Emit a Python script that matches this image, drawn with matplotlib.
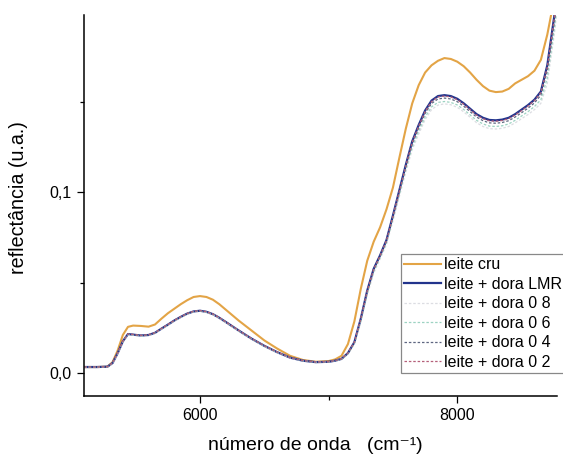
import matplotlib
matplotlib.use('Agg')
import matplotlib.pyplot as plt
from matplotlib.ticker import FixedLocator

plt.rcParams['font.family'] = ['Liberation Sans', 'DejaVu Sans']

# número de onda (cm-1)
onda = [5100, 5200, 5280, 5320, 5360, 5400, 5440, 5480, 5540, 5600,
        5650, 5700, 5750, 5800, 5850, 5900, 5950, 6000, 6050, 6100,
        6150, 6200, 6300, 6400, 6500, 6600, 6700, 6800, 6900, 7000,
        7050, 7100, 7150, 7200, 7250, 7300, 7350, 7400, 7450, 7500,
        7550, 7600, 7650, 7700, 7750, 7800, 7850, 7900, 7950, 8000,
        8050, 8100, 8150, 8200, 8250, 8300, 8350, 8400, 8450, 8500,
        8550, 8600, 8650, 8700, 8730, 8760, 8780]

leite_cru = [0.0033, 0.0033, 0.0035, 0.0060, 0.0125, 0.0210, 0.0255, 0.0262, 0.0260, 0.0256,
             0.0268, 0.0300, 0.0330, 0.0355, 0.0380, 0.0402, 0.0420, 0.0425, 0.0420, 0.0405,
             0.0380, 0.0350, 0.0290, 0.0235, 0.0180, 0.0135, 0.0095, 0.0072, 0.0062, 0.0066,
             0.0075, 0.0095, 0.0160, 0.0285, 0.0465, 0.0620, 0.0725, 0.0805, 0.0905, 0.1025,
             0.1190, 0.1350, 0.1490, 0.1590, 0.1660, 0.1700, 0.1725, 0.1740, 0.1735, 0.1720,
             0.1695, 0.1660, 0.1620, 0.1585, 0.1560, 0.1552, 0.1555, 0.1570, 0.1600, 0.1620,
             0.1640, 0.1670, 0.1730, 0.1870, 0.1980, 0.2100, 0.2200]

dora_lmr = [0.0033, 0.0033, 0.0035, 0.0055, 0.0110, 0.0175, 0.0215, 0.0212, 0.0207, 0.0210,
            0.0222, 0.0245, 0.0267, 0.0290, 0.0310, 0.0328, 0.0340, 0.0344, 0.0338, 0.0325,
            0.0305, 0.0282, 0.0235, 0.0190, 0.0150, 0.0115, 0.0085, 0.0068, 0.0060, 0.0062,
            0.0068, 0.0078, 0.0110, 0.0170, 0.0300, 0.0455, 0.0575, 0.0650, 0.0735, 0.0870,
            0.1010, 0.1150, 0.1280, 0.1370, 0.1450, 0.1505, 0.1530, 0.1535, 0.1530, 0.1515,
            0.1490, 0.1460, 0.1430, 0.1410, 0.1398, 0.1396, 0.1400, 0.1410, 0.1430, 0.1455,
            0.1480, 0.1510, 0.1555, 0.1700, 0.1850, 0.2000, 0.2150]

dora_08 = [0.0032, 0.0032, 0.0034, 0.0052, 0.0106, 0.0170, 0.0211, 0.0209, 0.0204, 0.0207,
           0.0219, 0.0242, 0.0264, 0.0287, 0.0307, 0.0325, 0.0337, 0.0341, 0.0335, 0.0322,
           0.0302, 0.0279, 0.0232, 0.0188, 0.0148, 0.0113, 0.0084, 0.0067, 0.0059, 0.0061,
           0.0066, 0.0075, 0.0104, 0.0160, 0.0280, 0.0430, 0.0550, 0.0630, 0.0710, 0.0840,
           0.0975, 0.1110, 0.1235, 0.1320, 0.1400, 0.1455, 0.1480, 0.1487, 0.1482, 0.1468,
           0.1443, 0.1413, 0.1383, 0.1362, 0.1350, 0.1348, 0.1352, 0.1362, 0.1382, 0.1405,
           0.1428, 0.1455, 0.1490, 0.1600, 0.1750, 0.1900, 0.2050]

dora_06 = [0.0033, 0.0033, 0.0035, 0.0054, 0.0108, 0.0173, 0.0213, 0.0211, 0.0206, 0.0209,
           0.0221, 0.0244, 0.0266, 0.0289, 0.0309, 0.0327, 0.0339, 0.0343, 0.0337, 0.0324,
           0.0304, 0.0281, 0.0234, 0.0189, 0.0149, 0.0114, 0.0085, 0.0068, 0.0060, 0.0062,
           0.0067, 0.0076, 0.0106, 0.0164, 0.0288, 0.0440, 0.0560, 0.0638, 0.0720, 0.0852,
           0.0988, 0.1125, 0.1250, 0.1337, 0.1415, 0.1470, 0.1495, 0.1500, 0.1495, 0.1481,
           0.1456, 0.1426, 0.1396, 0.1376, 0.1364, 0.1362, 0.1366, 0.1376, 0.1396, 0.1420,
           0.1444, 0.1472, 0.1510, 0.1630, 0.1780, 0.1930, 0.2080]

dora_04 = [0.0034, 0.0034, 0.0035, 0.0055, 0.0109, 0.0174, 0.0214, 0.0212, 0.0207, 0.0210,
           0.0222, 0.0245, 0.0267, 0.0290, 0.0310, 0.0328, 0.0340, 0.0344, 0.0338, 0.0325,
           0.0305, 0.0282, 0.0235, 0.0190, 0.0150, 0.0115, 0.0085, 0.0068, 0.0060, 0.0062,
           0.0068, 0.0077, 0.0108, 0.0167, 0.0294, 0.0448, 0.0568, 0.0645, 0.0729, 0.0862,
           0.1000, 0.1138, 0.1266, 0.1355, 0.1434, 0.1489, 0.1514, 0.1519, 0.1514, 0.1499,
           0.1474, 0.1444, 0.1414, 0.1394, 0.1382, 0.1380, 0.1384, 0.1394, 0.1414, 0.1438,
           0.1463, 0.1492, 0.1535, 0.1670, 0.1815, 0.1965, 0.2115]

dora_02 = [0.0033, 0.0033, 0.0035, 0.0056, 0.0111, 0.0176, 0.0216, 0.0213, 0.0208, 0.0211,
           0.0223, 0.0246, 0.0268, 0.0291, 0.0311, 0.0329, 0.0341, 0.0345, 0.0339, 0.0326,
           0.0306, 0.0283, 0.0236, 0.0191, 0.0151, 0.0116, 0.0086, 0.0069, 0.0061, 0.0063,
           0.0069, 0.0079, 0.0111, 0.0171, 0.0302, 0.0455, 0.0573, 0.0648, 0.0733, 0.0866,
           0.1005, 0.1145, 0.1275, 0.1365, 0.1445, 0.1500, 0.1525, 0.1530, 0.1525, 0.1510,
           0.1485, 0.1455, 0.1425, 0.1405, 0.1393, 0.1391, 0.1395, 0.1405, 0.1425, 0.1450,
           0.1475, 0.1505, 0.1550, 0.1690, 0.1840, 0.1990, 0.2140]

fig = plt.figure(figsize=(5.63, 4.57), dpi=100)
ax = fig.add_axes([0.1492, 0.1335, 0.8396, 0.8337])

ax.plot(onda, leite_cru, color='#E3A446', lw=1.5, label='leite cru')
ax.plot(onda, dora_lmr, color='#22348C', lw=1.6, label='leite + dora LMR')
ax.plot(onda, dora_08, color='#DCDDE2', lw=0.9, ls=(0, (2, 1.5)), label='leite + dora 0 8')
ax.plot(onda, dora_06, color='#9DD3C2', lw=0.9, ls=(0, (2, 1.5)), label='leite + dora 0 6')
ax.plot(onda, dora_04, color='#5E6680', lw=0.9, ls=(0, (2, 1.5)), label='leite + dora 0 4')
ax.plot(onda, dora_02, color='#B5607A', lw=0.9, ls=(0, (2, 1.5)), label='leite + dora 0 2')

ax.set_xlim(5098, 8773)
ax.set_ylim(-0.0127, 0.1978)

ax.spines['top'].set_visible(False)
ax.spines['right'].set_visible(False)
for s in ['left', 'bottom']:
    ax.spines[s].set_linewidth(1.1)

ax.set_xticks([6000, 8000])
ax.set_xticklabels(['6000', '8000'])
ax.xaxis.set_minor_locator(FixedLocator([7000]))
ax.set_yticks([0.0, 0.1])
ax.set_yticklabels(['0,0', '0,1'])
ax.yaxis.set_minor_locator(FixedLocator([0.05, 0.15]))
ax.tick_params(which='major', direction='out', length=5, width=0.9, labelsize=11.5, pad=4)
ax.tick_params(which='minor', direction='out', length=3, width=0.9)

ax.set_xlabel('número de onda   (cm\u207b\u00b9)', fontsize=14)
ax.xaxis.set_label_coords(0.49, -0.108)
ax.set_ylabel('reflectância (u.a.)', fontsize=14.2)
ax.yaxis.set_label_coords(-0.118, 0.52)

leg = ax.legend(loc='lower left', bbox_to_anchor=(401 / 563, 1 - 373 / 457),
                bbox_transform=fig.transFigure, fontsize=11.5, frameon=True,
                fancybox=False, edgecolor='#888888', framealpha=1,
                handlelength=2.3, handletextpad=0.2, labelspacing=0.28,
                borderpad=0.2, borderaxespad=0)
leg.get_frame().set_linewidth(0.9)

fig.savefig('out.png', dpi=100)
